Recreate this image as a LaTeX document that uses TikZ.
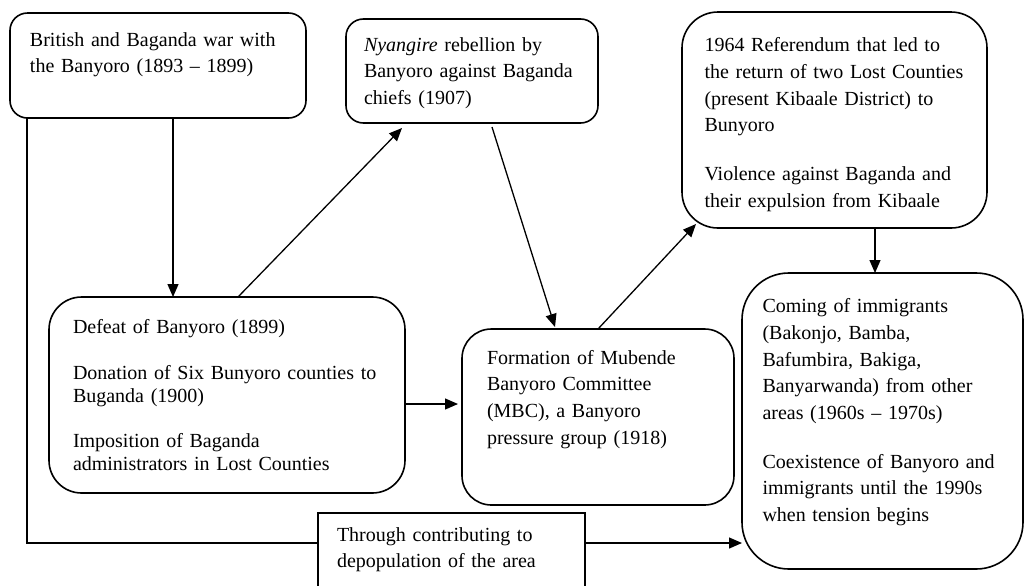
\documentclass[tikz,border=0pt]{standalone}
\usepackage{fontspec}
\setmainfont{Liberation Serif}
\usetikzlibrary{arrows.meta}

\begin{document}
\begin{tikzpicture}[x=0.5pt,y=-0.5pt,>={Triangle[length=6.5pt,width=5.5pt]},
  box/.style={draw,line width=0.8pt,anchor=north west,align=left,inner ysep=0pt,outer sep=0pt,font=\fontsize{10}{13.35}\selectfont},
  link/.style={->,line width=0.65pt}]
\useasboundingbox (0,0) rectangle (1024,585);
\node[box,rounded corners=8.75pt,text width=128pt,inner xsep=10pt,text height=16.5pt,text depth=36pt] (war) at (10,13) {British and Baganda war with\\the Banyoro (1893 – 1899)};
\node[box,rounded corners=8.7pt,text width=108pt,inner xsep=9pt,text height=16pt,text depth=36pt] (nyangire) at (346,19) {\textit{Nyangire} rebellion by\\Banyoro against Baganda\\chiefs (1907)};
\node[box,rounded corners=18pt,text width=130pt,inner xsep=11.25pt,text height=19.85pt,text depth=88.15pt] (referendum) at (682,12) {1964 Referendum that led to\\the return of two Lost Counties\\(present Kibaale District) to\\Bunyoro\\[11pt]Violence against Baganda and\\their expulsion from Kibaale};
\node[box,rounded corners=16.3pt,text width=154pt,inner xsep=12pt,text height=18.35pt,text depth=79.65pt,font=\fontsize{10}{11.65}\selectfont] (defeat) at (49,297) {Defeat of Banyoro (1899)\\[11pt]Donation of Six Bunyoro counties to\\Buganda (1900)\\[11pt]Imposition of Baganda\\administrators in Lost Counties};
\node[box,rounded corners=14.7pt,text width=111pt,inner xsep=12.5pt,text height=17.5pt,text depth=70.5pt] (mbc) at (462,329) {Formation of Mubende\\Banyoro Committee\\(MBC), a Banyoro\\pressure group (1918)};
\node[box,rounded corners=23.4pt,text width=120pt,inner xsep=10.25pt,text height=19.85pt,text depth=128.15pt] (immigrants) at (742,273) {Coming of immigrants\\(Bakonjo, Bamba,\\Bafumbira, Bakiga,\\Banyarwanda) from other\\areas (1960s – 1970s)\\[11pt]Coexistence of Banyoro and\\immigrants until the 1990s\\when tension begins};
\node[box,line width=1.3pt,text width=114.5pt,inner xsep=9.5pt,text height=14pt,text depth=50pt] (depop) at (318,513) {Through contributing to\\depopulation of the area};
\coordinate (g1) at ([yshift=-15pt]depop.north west);
\draw[link] (war.south) ++(15,0) coordinate (w1) -- (w1 |- defeat.north);
\draw[link] (defeat.north) ++(11,0) -- ([xshift=-35pt,yshift=-2.5pt]nyangire.south);
\draw[link] ([xshift=10pt,yshift=-2pt]nyangire.south) -- ([xshift=-21.5pt,yshift=1pt]mbc.north);
\draw[link] (mbc.north) -- ([xshift=7pt,yshift=2pt]referendum.south west);
\draw[link] (referendum.south) ++(40.5,0) coordinate (r1) -- (r1 |- immigrants.north);
\draw[link,shorten >=2pt] (defeat.east) ++(0,9) coordinate (d1) -- (d1 -| mbc.west);
\draw[line width=0.65pt] (war.south west) ++(17,0) coordinate (w2) -- (w2 |- g1) -- (g1);
\draw[link] (g1 -| depop.east) -- (g1 -| immigrants.west);
\end{tikzpicture}
\end{document}
